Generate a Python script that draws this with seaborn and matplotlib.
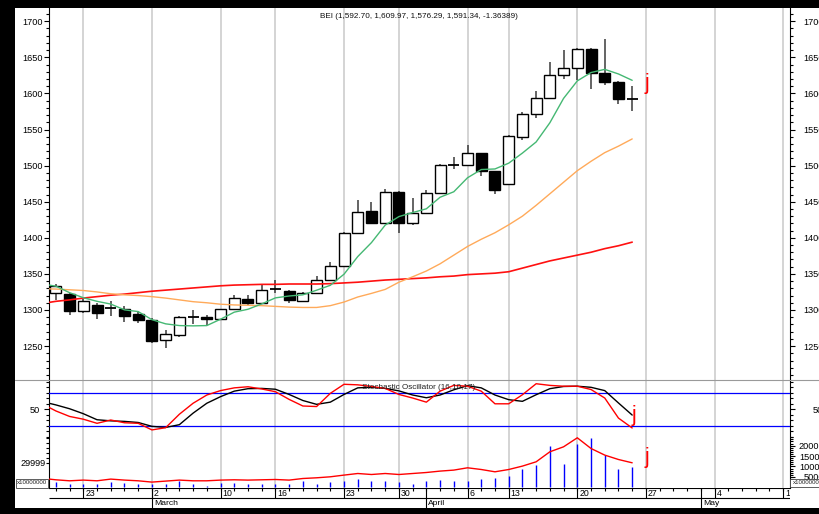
import numpy as np
import pandas as pd
import matplotlib
matplotlib.use("Agg")
import matplotlib.pyplot as plt
import seaborn as sns
from matplotlib.patches import Rectangle
from matplotlib.lines import Line2D
from matplotlib.ticker import FixedLocator, NullFormatter

sns.set_style("white")
plt.rcParams['font.family'] = ['Liberation Sans', 'DejaVu Sans']

# ---------------- data ----------------
trade_days = pd.to_datetime([
    "2009-02-19", "2009-02-20", "2009-02-23", "2009-02-24", "2009-02-25", "2009-02-26", "2009-02-27",
    "2009-03-02", "2009-03-03", "2009-03-04", "2009-03-05", "2009-03-06", "2009-03-10", "2009-03-11",
    "2009-03-12", "2009-03-13", "2009-03-16", "2009-03-17", "2009-03-18", "2009-03-19", "2009-03-20",
    "2009-03-23", "2009-03-24", "2009-03-25", "2009-03-27", "2009-03-30", "2009-03-31", "2009-04-01",
    "2009-04-02", "2009-04-03", "2009-04-06", "2009-04-07", "2009-04-08", "2009-04-13", "2009-04-14",
    "2009-04-15", "2009-04-16", "2009-04-17", "2009-04-20", "2009-04-21", "2009-04-22", "2009-04-23",
    "2009-04-24",
    "2009-04-27", "2009-04-28", "2009-04-29", "2009-04-30", "2009-05-01", "2009-05-04", "2009-05-05",
    "2009-05-06", "2009-05-07", "2009-05-08", "2009-05-11"])

opens = [1324, 1322, 1299, 1307, 1302.5, 1302, 1294, 1286, 1258, 1266,
         1291, 1290, 1288, 1301, 1315, 1310, 1329, 1327, 1313, 1323,
         1342, 1361, 1407, 1437, 1421, 1464, 1420, 1435, 1462, 1500,
         1501, 1517, 1492, 1474, 1540, 1571, 1594, 1626, 1635, 1662,
         1629, 1616, 1592.70]
highs = [1336, 1323, 1315, 1310, 1313, 1306, 1298, 1289, 1272, 1291,
         1300, 1293, 1302, 1321, 1321, 1335, 1341, 1328, 1325, 1347,
         1366, 1408, 1452, 1449, 1468, 1465, 1455, 1466, 1502, 1512,
         1529, 1518, 1493, 1542, 1575, 1603, 1643, 1660, 1663, 1663,
         1675, 1617, 1609.97]
lows = [1314, 1293, 1296, 1288, 1292, 1283, 1282, 1254, 1247, 1263,
        1281, 1279, 1286, 1300, 1307, 1309, 1324, 1309, 1312, 1322,
        1341, 1360, 1406, 1419, 1420, 1406, 1418, 1434, 1461, 1495,
        1500, 1485, 1461, 1473, 1536, 1566, 1593, 1620, 1619, 1606,
        1612, 1586, 1576.29]
closes = [1333, 1298, 1313, 1296, 1302, 1292, 1286, 1257, 1267, 1290,
          1290, 1288, 1301, 1316, 1310, 1328, 1330, 1314, 1324, 1342,
          1361, 1407, 1436, 1421, 1463, 1420, 1435, 1462, 1501, 1501,
          1517, 1492, 1466, 1541, 1571, 1594, 1625, 1635, 1662, 1629,
          1616, 1593, 1591.34]

# line series start one session earlier (18 Feb) so they run in from the left edge
ma_green = [1336, 1333, 1324, 1317, 1312, 1308.2, 1300.2, 1297.8, 1286.6, 1280.8,
            1278.4, 1278, 1278.4, 1287.2, 1297, 1301, 1308.4, 1316.8, 1319.4, 1321,
            1327.4, 1334.2, 1349.6, 1374, 1393.4, 1417.6, 1429.4, 1435, 1440.2, 1456.2,
            1463.8, 1483.2, 1494.6, 1495.4, 1503.4, 1517.4, 1532.8, 1559.4, 1593.2, 1617.4,
            1629, 1633.4, 1627, 1618.2]
ma_orange = [1329.5, 1329, 1328, 1327, 1325, 1322.5, 1321, 1320, 1318.5, 1316.5,
             1314, 1311.5, 1310, 1308, 1307, 1306.5, 1306, 1305, 1304, 1303.5,
             1303.5, 1306, 1311, 1318, 1323, 1328.5, 1338.5, 1346, 1354, 1364,
             1376, 1388, 1398, 1407, 1418, 1430, 1445, 1461, 1477, 1493,
             1506, 1518, 1527, 1537]
ma_red = [1309, 1312, 1314, 1316.5, 1318.5, 1320.5, 1322, 1324, 1326, 1327.5,
          1329, 1330.5, 1332, 1333.5, 1334.5, 1335, 1335.5, 1335.5, 1336, 1336,
          1336, 1336.5, 1337.5, 1338.5, 1340, 1341.5, 1342.5, 1343.5, 1344.5, 1346,
          1347, 1349, 1350, 1351, 1353, 1358, 1363, 1368, 1372, 1376,
          1380, 1385, 1389, 1394]
stoch_k = [60, 47, 37, 32, 24.5, 30.5, 25.5, 24.5, 12.5, 16.5,
           41, 61, 76, 84, 89, 91, 87, 82, 68, 56,
           55, 79, 95.5, 94.5, 91.5, 88, 77, 70.5, 63, 83,
           93.5, 92, 83, 60, 60, 76.5, 96.5, 93.5, 92, 92,
           86, 70.5, 34, 16]
stoch_d = [64, 58, 51, 42, 31, 29, 28, 26, 19, 17,
           22, 43, 61, 73, 83, 87.5, 88, 86.5, 77, 66,
           59, 63, 77, 89, 90, 88, 83.5, 76, 71, 76,
           85.5, 93, 89, 76, 67.5, 64.5, 76.5, 87.5, 91.5, 92,
           90, 84, 61.5, 39.5]
volume = [2500, 1820, 1350, 1350, 2500, 2160, 1820, 1500, 1540, 2980,
          1540, 720, 2160, 2160, 1540, 1540, 1540, 1540, 3260, 1820,
          2500, 2980, 4220, 3120, 3120, 2640, 1820, 3000, 3460, 3120,
          3120, 3940, 4560, 5520, 8740, 10660, 19920, 11140, 20740, 23760,
          15460, 9020, 9840]
volume_line = [4300, 3600, 3120, 3456, 3120, 3936, 3456, 3120, 2496, 2976,
               3456, 3120, 3120, 3456, 3600, 3456, 3600, 3744, 3456, 4224,
               4560, 5040, 5856, 6624, 6144, 6624, 6144, 6624, 7104, 7776,
               8256, 9360, 8544, 7440, 8544, 10176, 12240, 17040, 19440, 23760,
               18624, 15456, 13344, 11760]

title_text = "BEI (1,592.70, 1,609.97, 1,576.29, 1,591.34, -1.36389)"
stoch_title = "Stochastic Oscillator (16,10,17)"

# ---------------- layout ----------------
W, H = 820, 514
fig = plt.figure(figsize=(W / 100, H / 100), dpi=100, facecolor='white')


def box(x0, y0, x1, y1):
    return [x0 / W, 1 - y1 / H, (x1 - x0) / W, (y1 - y0) / H]


def fx(x):
    return x / W


def fy(y):
    return 1 - y / H


ax_p = fig.add_axes(box(49, 8, 790, 380))
ax_s = fig.add_axes(box(49, 380, 790, 437))
ax_v = fig.add_axes(box(49, 437, 790, 488))
ax_d = fig.add_axes(box(49, 488, 790, 508))

XLIM = (-0.5, 53.5)
P_LIM = (1203.0, 1718.4)
S_LIM = (-0.4, 103.3)
V_LIM = (-336, 24144)

n = len(opens)
xi = np.arange(n)
xl = np.arange(-1, n)

# week starts / month starts
week_idx = [i for i in range(1, len(trade_days))
            if trade_days[i].weekday() < trade_days[i - 1].weekday()]
month_idx = [i for i in range(1, len(trade_days))
             if trade_days[i].month != trade_days[i - 1].month]

grid_c = '#cdcdcd'
for ax in (ax_p, ax_s, ax_v):
    ax.set_xlim(*XLIM)
    ax.set_facecolor('white')
    ax.set_xticks([])
    for i in week_idx:
        ax.axvline(i, color=grid_c, lw=1.2, zorder=0.5)
    for s in ('top', 'bottom'):
        ax.spines[s].set_visible(False)
    for s in ('left', 'right'):
        ax.spines[s].set_visible(True)
        ax.spines[s].set_color('black')
        ax.spines[s].set_linewidth(0.8)

# ---------- price panel ----------
body_w = 0.8
for i in xi:
    o, h, l, c = opens[i], highs[i], lows[i], closes[i]
    ax_p.vlines(i, l, h, color='#3a3a3a', lw=1.1, zorder=2)
    lo, hi = min(o, c), max(o, c)
    if abs(c - o) < 1.5:
        ax_p.hlines((o + c) / 2, i - body_w / 2, i + body_w / 2, color='black', lw=1.3, zorder=3)
    else:
        face = 'white' if c > o else 'black'
        ax_p.add_patch(Rectangle((i - body_w / 2, lo), body_w, hi - lo, facecolor=face,
                                 edgecolor='black', lw=1.0, zorder=3))

sns.lineplot(x=xl, y=ma_red, ax=ax_p, color='#ff1010', linewidth=1.2, zorder=4)
sns.lineplot(x=xl, y=ma_orange, ax=ax_p, color='#ffaa5a', linewidth=1.0, zorder=4)
sns.lineplot(x=xl, y=ma_green, ax=ax_p, color='#45b873', linewidth=1.0, zorder=5)
ax_p.set_xlim(*XLIM)
ax_p.set_ylim(*P_LIM)

# ---------- stochastic panel ----------
sns.lineplot(x=xl, y=stoch_d, ax=ax_s, color='black', linewidth=1.0, zorder=4)
sns.lineplot(x=xl, y=stoch_k, ax=ax_s, color='#ff0000', linewidth=1.0, zorder=5)
ax_s.axhline(80, color='#0000ff', lw=0.9, zorder=3)
ax_s.axhline(20, color='#0000ff', lw=0.9, zorder=3)
ax_s.set_xlim(*XLIM)
ax_s.set_ylim(*S_LIM)

# ---------- volume panel ----------
ax_v.vlines(xi, 0, volume, color='#0000ff', lw=1.0, zorder=3)
sns.lineplot(x=xl, y=volume_line, ax=ax_v, color='#ff0000', linewidth=1.0, zorder=4)
ax_v.set_xlim(*XLIM)
ax_v.set_ylim(*V_LIM)

for ax in (ax_p, ax_s, ax_v):
    ax.set_xlabel('')
    ax.set_ylabel('')
    ax.set_xticks([])


# ---------- y axes (left on the panel, right on a twin) ----------
def style_left(ax, major, minor, labels, pad_px, major_len=5, minor_len=3):
    ax.yaxis.set_major_locator(FixedLocator(major))
    ax.yaxis.set_minor_locator(FixedLocator(minor))
    ax.yaxis.set_minor_formatter(NullFormatter())
    ax.set_yticklabels(labels)
    ax.tick_params(axis='y', which='both', left=True, right=False, labelleft=True,
                   labelright=False, direction='out', width=0.8, color='black',
                   labelsize=6.6, labelcolor='black', pad=pad_px * 0.72)
    ax.tick_params(axis='y', which='major', length=major_len * 0.72)
    ax.tick_params(axis='y', which='minor', length=minor_len * 0.72)


def style_right(ax, ylim, major, minor, labels, right_edge=823.5, major_len=5, minor_len=3):
    r = ax.twinx()
    r.set_xlim(*XLIM)
    r.set_ylim(*ylim)
    r.yaxis.set_major_locator(FixedLocator(major))
    r.yaxis.set_minor_locator(FixedLocator(minor))
    r.yaxis.set_minor_formatter(NullFormatter())
    r.set_yticklabels(labels)
    pad_px = right_edge - 790 - major_len
    r.tick_params(axis='y', which='both', right=True, labelright=True, direction='out',
                  width=0.8, color='black', labelsize=6.6, labelcolor='black', pad=pad_px * 0.72)
    r.tick_params(axis='y', which='major', length=major_len * 0.72)
    r.tick_params(axis='y', which='minor', length=minor_len * 0.72)
    for t in r.yaxis.get_major_ticks():
        t.label2.set_horizontalalignment('right')
    for s in r.spines.values():
        s.set_visible(False)
    r.patch.set_visible(False)
    return r


p_major = list(range(1250, 1701, 50))
p_minor = [v for v in range(1210, 1711, 10) if v % 50]
style_left(ax_p, p_major, p_minor, [str(v) for v in p_major], pad_px=1.5)
style_right(ax_p, P_LIM, p_major, p_minor, [str(v) for v in p_major])

s_minor = [v for v in range(0, 101, 10) if v != 50]
style_left(ax_s, [50], s_minor, ['50'], pad_px=3.7)
style_right(ax_s, S_LIM, [50], s_minor, ['50'], right_edge=822.5)

v_left_minor = [14000, 16400, 18800, 21200, 23600]
style_left(ax_v, [11856], v_left_minor, ['29999'], pad_px=0.3, major_len=3, minor_len=3)
v_major = [5000, 10000, 15000, 20000]
v_minor = [v for v in range(1000, 24001, 1000) if v % 5000]
style_right(ax_v, V_LIM, v_major, v_minor, [str(v) for v in v_major], right_edge=824.5)

# ---------- date axis ----------
ax_d.set_xlim(*XLIM)
ax_d.set_ylim(20, 0)
ax_d.axis('off')
ax_d.hlines([0, 10], XLIM[0], XLIM[1], color='black', lw=0.8)
ax_d.vlines(np.arange(len(trade_days)), 0, 2.6, color='black', lw=0.8)
for i in week_idx:
    ax_d.vlines(i, 0, 10, color='black', lw=0.8)
    ax_d.text(i + 0.15, 5.4, str(trade_days[i].day), fontsize=6.3, ha='left', va='center',
              color='black', clip_on=True)
for i in month_idx:
    ax_d.vlines(i, 0, 20, color='black', lw=0.8)
    ax_d.text(i + 0.15, 15.4, trade_days[i].strftime('%B'), fontsize=6.1, ha='left',
              va='center', color='black', clip_on=True)

# ---------- texts ----------
fig.text(fx(418.5), fy(17), title_text, fontsize=5.9, ha='center', va='center', color='#111111')
fig.text(fx(419), fy(387.5), stoch_title, fontsize=5.9, ha='center', va='center',
         color='#222222', zorder=20)
for (x, y) in [(647, 83), (634, 416), (647, 457)]:
    fig.text(fx(x), fy(y), 'j', fontsize=15.5, color='#ff0000', ha='center', va='center',
             zorder=20)

# multiplier boxes
fig.add_artist(Rectangle((fx(16), fy(487.5)), (48 - 16) / W, 9 / H, transform=fig.transFigure,
                         facecolor='white', edgecolor='#444444', lw=0.6, zorder=30))
fig.text(fx(32), fy(483), 'x10000000', fontsize=4.4, ha='center', va='center', zorder=31)
fig.add_artist(Rectangle((fx(790.5), fy(487)), (830 - 790.5) / W, 8 / H, transform=fig.transFigure,
                         facecolor='white', edgecolor='#444444', lw=0.6, zorder=30))
fig.text(fx(793), fy(483), 'x10000000', fontsize=4.4, ha='left', va='center', zorder=31)

# panel separator
fig.add_artist(Line2D([fx(15), 1.0], [fy(380), fy(380)], transform=fig.transFigure,
                      color='#9a9a9a', lw=0.8, zorder=25))

# black frame
for (x0, y0, w, h) in [(0, 0, 15, H), (0, 0, W, 8), (0, 508, W, 6)]:
    fig.add_artist(Rectangle((fx(x0), fy(y0 + h)), w / W, h / H, transform=fig.transFigure,
                             facecolor='black', edgecolor='none', zorder=50))

fig.savefig('out.png', dpi=100, facecolor='white')
